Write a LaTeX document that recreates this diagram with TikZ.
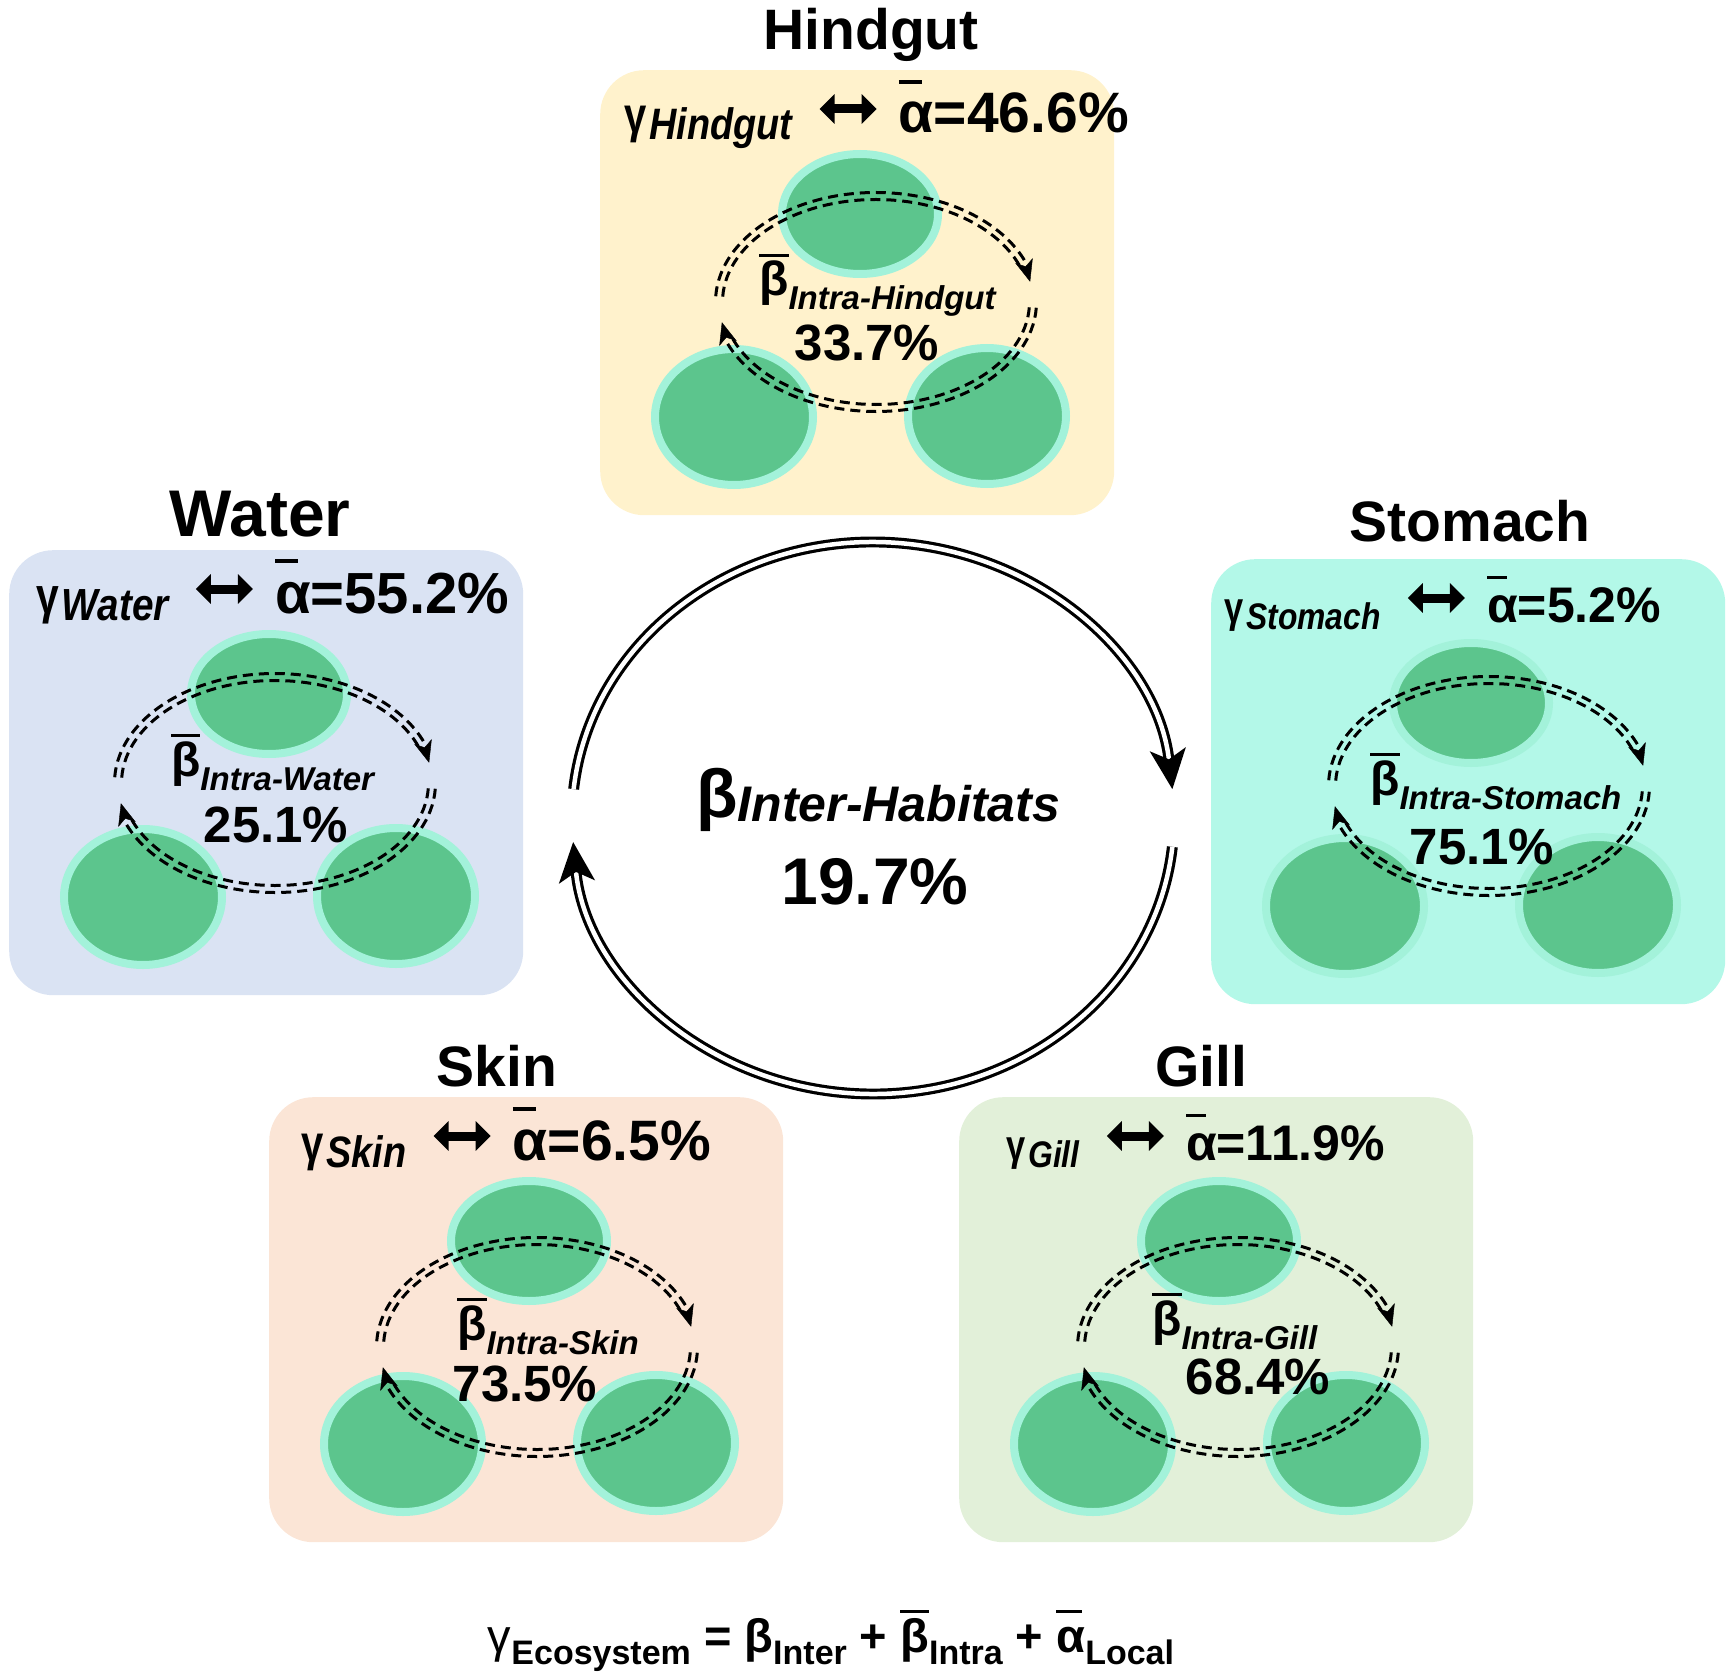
\documentclass[tikz,border=0pt]{standalone}
\usepackage{fontspec}
\setmainfont{Liberation Sans}
\usetikzlibrary{arrows.meta,positioning,calc,shapes.geometric}

\definecolor{bgHindgut}{HTML}{FFF2CC}
\definecolor{bgWater}{HTML}{DAE3F3}
\definecolor{bgStomach}{HTML}{B3F8E8}
\definecolor{bgSkin}{HTML}{FBE5D6}
\definecolor{bgGill}{HTML}{E2F0D9}
\definecolor{samplegreen}{HTML}{5CC58D}
\definecolor{rim}{HTML}{A3F2DA}

% bar over a letter: raise, width fraction, letter
\newcommand\topbar[3]{\setbox0=\hbox{#3}\rlap{\raisebox{#1}{\rule{#2\wd0}{0.065em}}}\box0}
% gamma with habitat subscript: gamma size, subscript size, text
\newcommand\gam[3]{{\fontsize{#1}{#1}\selectfont\bfseries\addfontfeature{FakeStretch=0.8}γ}\kern3pt\raisebox{-7pt}{\fontsize{#2}{#2}\selectfont\bfseries\itshape\addfontfeature{FakeStretch=0.86}#3}}
\newcommand\intra[1]{\topbar{0.82em}{1}{β}\raisebox{-14pt}{\fontsize{33}{33}\selectfont\itshape Intra-#1}}
\newcommand\fsub[1]{\raisebox{-12pt}{\fontsize{34}{34}\selectfont #1}}

\begin{document}
\begin{tikzpicture}[x=1pt,y=1pt]
   \useasboundingbox (0,0) rectangle (1733,-1677);
   \tikzstyle{habbox}=[rounded corners=44pt, minimum width=514pt, minimum height=445pt, inner sep=0pt, anchor=north west]
   \tikzstyle{sample}=[ellipse, fill=samplegreen, draw=rim, line width=8pt, inner sep=0pt]
   \tikzstyle{intra}=[line width=3pt, dash pattern=on 10pt off 6pt]
   \tikzstyle{intratip}=[tips, -{Stealth[length=22pt,width=18pt,inset=6pt]}]
   \tikzstyle{lr}=[line width=9pt, {Triangle[length=15pt,width=29pt]}-{Triangle[length=15pt,width=29pt]}]
   \tikzstyle{inter}=[double, line width=3.2pt, double distance=4.5pt, -{Stealth[length=40pt,width=36pt,inset=10pt]}]
   \foreach \hab/\bx/\by/\tx/\ty/\ts/\gx/\gs/\as/\aval/\lx/\ly/\btx/\bty/\px/\py/\bval in {
       Hindgut/600/70/271/20/57/24/44/57/46.6/276/232/159/226/267/291/33.7,
       Water/9/550/251/14/66/27/45/58/55.2/266/233/162/226/267/292/25.1,
       Stomach/1211/559/259/18/57/13/37/50/5.2/278/227/159/236/271/305/75.1,
       Skin/269/1097/228/11/57/32/44/57/6.5/268/250/188/243/256/304/73.5,
       Gill/959/1097/242/11/57/47/37/50/11.9/279/250/193/238/299/297/68.4} {
     \pgfmathtruncatemacro{\gg}{\gs+6}
     \begin{scope}[shift={(\bx,-\by)}]
       \node[habbox, fill=bg\hab] (box-\hab) at (0,0) {};
       \node[anchor=base, font=\fontsize{\ts}{\ts}\selectfont\bfseries] (title-\hab) at (\tx,\ty) {\hab};
       \node[sample, minimum width=156pt, minimum height=120pt] (s1-\hab) at (260,-144) {};
       \node[sample, minimum width=158pt, minimum height=136pt] (s2-\hab) at (134,-347) {};
       \node[sample, minimum width=158pt, minimum height=136pt] (s3-\hab) at (387,-346) {};
       % gamma <-> alpha
       \node[anchor=base west, inner sep=0pt] (g-\hab) at (\gx,-63) {\gam{\gg}{\gs}{\hab}};
       \node[base right=106pt of g-\hab, inner sep=0pt, font=\fontsize{\as}{\as}\selectfont\bfseries] (a-\hab) {\topbar{0.86em}{0.65}{α}=\aval\%};
       \draw[lr] ($(g-\hab.base east)+(27,24)$) -- ($(a-\hab.base west)+(-22,24)$);
       % intra loop
       \coordinate (l-\hab) at (\lx,-\ly);
       \foreach \rx/\ry in {153.5/102.5,160.5/109.5} {
         \draw[intra] (l-\hab) ++(177:\rx pt and \ry pt) arc[start angle=177, end angle=19, x radius=\rx pt, y radius=\ry pt];
         \draw[intra] (l-\hab) ++(-3:\rx pt and \ry pt) arc[start angle=-3, end angle=-160, x radius=\rx pt, y radius=\ry pt];
       }
       \path[intratip] (l-\hab) ++(32:157pt and 106pt) arc[start angle=32, end angle=11, x radius=157pt, y radius=106pt];
       \path[intratip] (l-\hab) ++(-150:157pt and 106pt) arc[start angle=-150, end angle=-169, x radius=157pt, y radius=106pt];
       \node[anchor=base west, inner sep=0pt, font=\fontsize{48}{48}\selectfont\bfseries] (b-\hab) at (\btx,-\bty) {\intra{\hab}};
       \node[anchor=base, inner sep=0pt, font=\fontsize{51}{51}\selectfont\bfseries] (p-\hab) at (\px,-\py) {\bval\%};
     \end{scope}
   }
   % inter-habitat cycle
   \coordinate (hub) at (873,-818);
   \draw[inter] (hub) ++(174:301pt and 276pt) arc[start angle=174, end angle=6, x radius=301pt, y radius=276pt];
   \draw[inter] (hub) ++(-6:301pt and 276pt) arc[start angle=-6, end angle=-175, x radius=301pt, y radius=276pt];
   \node[anchor=base west, inner sep=0pt, font=\fontsize{68}{68}\selectfont\bfseries] (beta-inter) at (696,-817) {β\raisebox{-4pt}{\fontsize{50}{50}\selectfont\itshape Inter-Habitats}};
   \node[anchor=base, inner sep=0pt, font=\fontsize{66}{66}\selectfont\bfseries] (pct-inter) at (875,-904) {19.7\%};
   \node[anchor=base, inner sep=0pt, font=\fontsize{47}{47}\selectfont\bfseries] (eq) at (831,-1652) {{\mdseries γ}\fsub{Ecosystem} = β\fsub{Inter} + \topbar{0.82em}{1}{β}\fsub{Intra} + \topbar{0.82em}{0.9}{α}\fsub{Local}};
\end{tikzpicture}
\end{document}
